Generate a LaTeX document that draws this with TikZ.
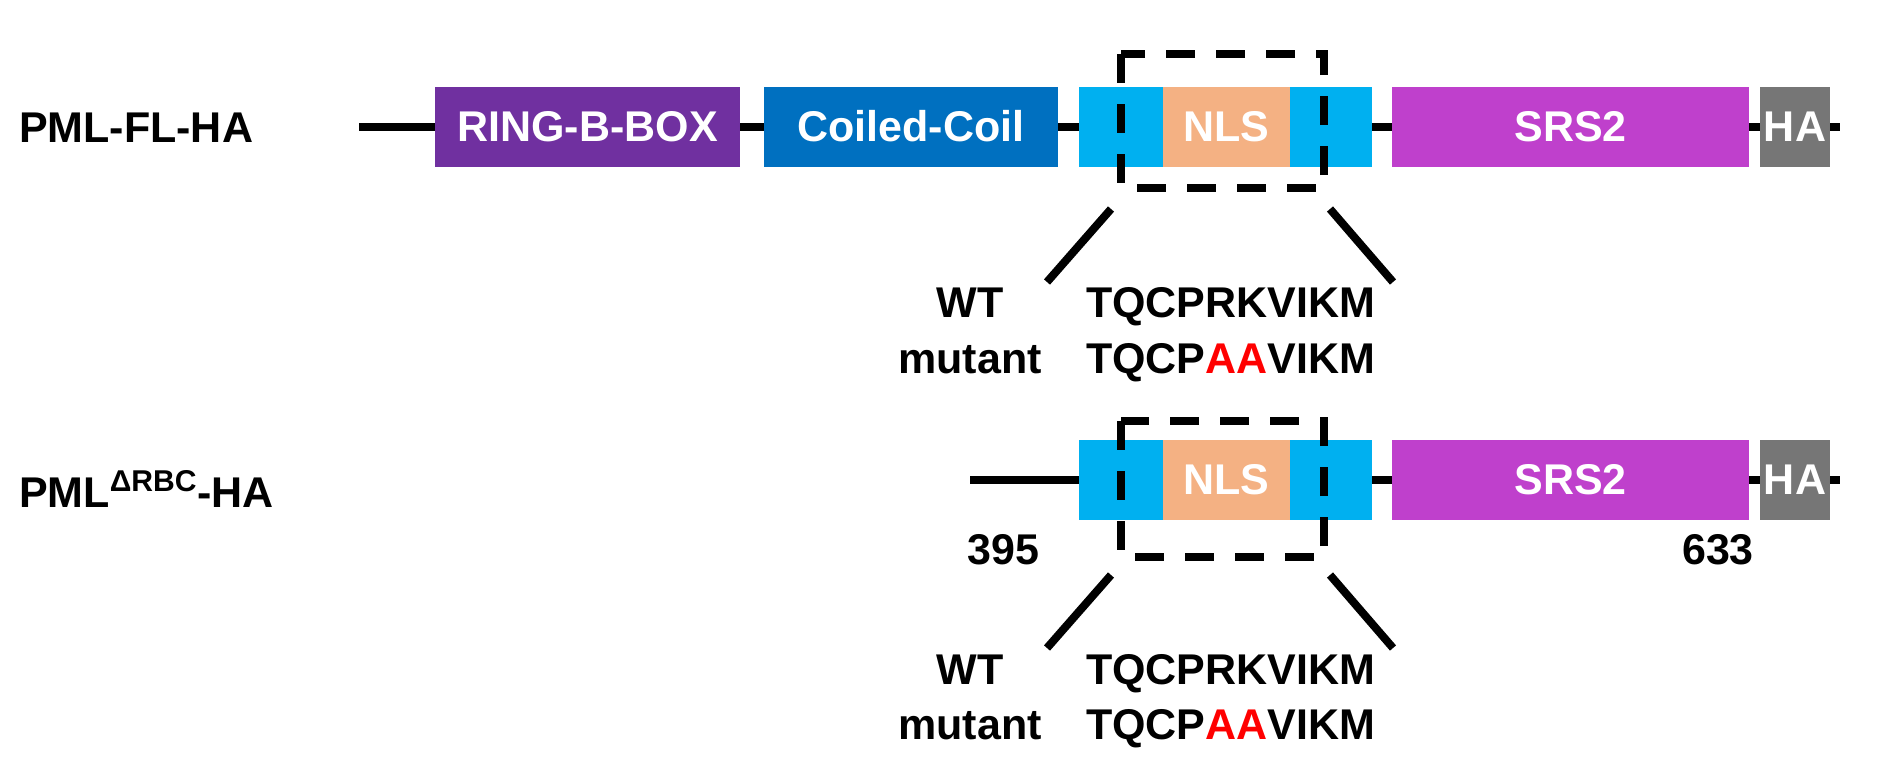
\documentclass[tikz,border=0pt]{standalone}
\usepackage{fontspec}
\setmainfont{Liberation Sans}
\usepackage{tikz}

\definecolor{ringc}{HTML}{7030A0}
\definecolor{coilc}{HTML}{0070C0}
\definecolor{linkc}{HTML}{00B0F0}
\definecolor{nlsc}{HTML}{F4B183}
\definecolor{srsc}{RGB}{191,64,204}
\definecolor{hac}{RGB}{118,118,118}
\definecolor{mutred}{RGB}{255,0,0}

\begin{document}
\begin{tikzpicture}[x=0.5pt, y=-0.5pt, line width=4pt,
	dom/.style={fill=#1, text=white, inner sep=0pt, minimum height=40pt,
		font=\fontsize{21.5}{24}\selectfont\bfseries},
	lbl/.style={font=\fontsize{21.5}{24}\selectfont\bfseries, inner sep=0pt},
	window/.style={dash pattern=on 14.5pt off 10.5pt}]
\useasboundingbox (0,0) rectangle (1890,783);

%full length construct
\node [lbl, anchor=base west] (fl) at (15,142) {PML-FL-HA};
\coordinate (fl0) at (359,126.5);
\coordinate (fl1) at (1840,126.5);
\draw (fl0) -- (fl1);
\node [dom=ringc, minimum width=152.5pt] (ring) at (587.5,126.5) {RING-B-BOX};
\node [dom=coilc, minimum width=147pt] (coil) at (911,126.5) {Coiled-Coil};

%deletion construct, residues 395-633
\node [lbl, anchor=base west] (drbc) at (15,507) {PML\textsuperscript{ΔRBC}-HA};
\coordinate (d0) at (970,480);
\coordinate (d1) at (1840,480);
\draw (d0) -- (d1);
\node [lbl, anchor=base] (n395) at (1003.5,564) {395};
\node [lbl, anchor=base] (n633) at (1718,564) {633};

%shared domains, NLS window and sequences
\foreach \r/\y/\ya/\yb/\ut/\ub/\wt/\mt in {1/126.5/54/188/209/282/317/373, 2/479.5/421/557/575/648/684/739} {
	\node [dom=linkc, minimum width=146.5pt] (link\r) at (1225.5,\y) {};
	\node [dom=nlsc, minimum width=63.5pt] (nls\r) at (1226.5,\y) {NLS};
	\node [dom=srsc, minimum width=178.5pt] (srs\r) at (1570.5,\y) {SRS2};
	\node [dom=hac, minimum width=35pt] (ha\r) at (1795,\y) {HA};
	\draw [window] (1121,\ya) rectangle (1324,\yb);
	\coordinate (sla\r) at (1111,\ut);
	\coordinate (slb\r) at (1047,\ub);
	\coordinate (sra\r) at (1330,\ut);
	\coordinate (srb\r) at (1393,\ub);
	\draw (sla\r) -- (slb\r);
	\draw (sra\r) -- (srb\r);
	\node [lbl, anchor=base] (wt\r) at (970,\wt) {WT};
	\node [lbl, anchor=base] (mut\r) at (970,\mt) {mutant};
	\node [lbl, anchor=base west] (seqwt\r) at (1082,\wt) {TQCPRKVIKM};
	\node [lbl, anchor=base west] (seqmt\r) at (1082,\mt) {TQCP\textcolor{mutred}{AA}VIKM};
}

\end{tikzpicture}
\end{document}
